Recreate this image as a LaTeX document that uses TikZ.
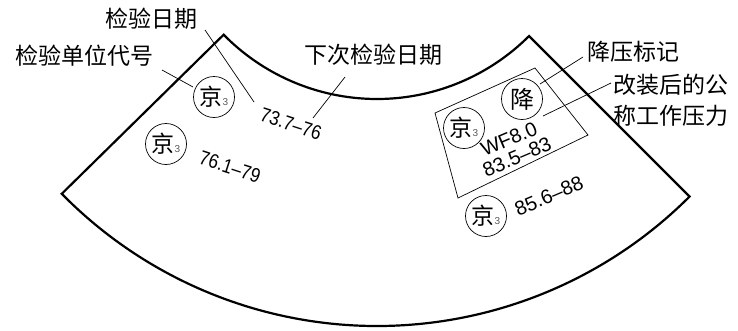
\documentclass[tikz,border=0pt]{standalone}
\usepackage{fontspec}
\setmainfont{Liberation Sans}
\newfontfamily\cjk{Noto Sans CJK SC}
\newfontfamily\numleft[FakeStretch=0.87]{Liberation Sans}
\usetikzlibrary{calc}
\newcommand\jingseal{{\cjk\fontsize{23}{23}\selectfont 京}{\fontsize{10}{10}\selectfont\color{black!65}3}}
\begin{document}
\begin{tikzpicture}[x=1pt,y=-1pt,
  heavy/.style={line width=2.2pt, line join=miter},
  thin/.style={line width=0.7pt},
  seal/.style={circle, draw, line width=0.7pt, minimum size=41pt, inner sep=0pt},
  lbl/.style={font=\cjk\fontsize{23}{31}\selectfont, inner sep=0pt},
  numl/.style={font=\numleft\fontsize{20}{20}\selectfont, inner sep=0pt, rotate=-18},
  numr/.style={font=\fontsize{20}{20}\selectfont, inner sep=0pt, rotate=23}]
\useasboundingbox (0,0) rectangle (738,330);
\coordinate (c) at (377,-116);
% sector
\draw[heavy] ($(c)+(135.5:215)$) arc[start angle=135.5, end angle=45, radius=215]
  -- ($(c)+(45:442)$) arc[start angle=45, end angle=135.5, radius=442] -- cycle;
% labels
\node[lbl] (l1) at (151,19) {检验日期};
\node[lbl] (l2) at (84,56) {检验单位代号};
\node[lbl] (l3) at (373,55) {下次检验日期};
\node[lbl] (l4) at (633,52) {降压标记};
\node[lbl, anchor=west, align=left] (l5) at (613,100) {改装后的公\\称工作压力};
% seals
\node[seal] (s1) at (214,97) {\jingseal};
\node[seal] (s2) at (166,144) {\jingseal};
\node[seal] (s3) at (464,128) {\jingseal};
\node[seal] (s4) at (522,99) {\cjk\fontsize{24}{24}\selectfont 降};
\node[seal] (s5) at (486,216) {\jingseal};
% numbers (rotated along the band)
\node[numl] (n1) at (291,124) {73.7–76};
\node[numl] (n2) at (230,167) {76.1–79};
\node[numr] (n3) at (509,139) {WF8.0};
\node[numr] (n4) at (517,157) {83.5–83};
\node[numr] (n5) at (549,196) {85.6–88};
% box
\coordinate (b1) at (435,113);
\coordinate (b2) at (535,68);
\coordinate (b3) at (588,135);
\coordinate (b4) at (458,198);
\draw[thin] (b1) -- (b2) -- (b3) -- (b4) -- cycle;
% leaders
\coordinate (a1) at (205,30); \coordinate (e1) at (254,102);
\coordinate (a2) at (162,70); \coordinate (e2) at (193,87);
\coordinate (a3) at (345,77); \coordinate (e3) at (313,118);
\coordinate (a4) at (583,57); \coordinate (e4) at (540,84);
\coordinate (a5) at (611,83); \coordinate (e5) at (543,116);
\draw[thin] (a1) -- (e1);
\draw[thin] (a2) -- (e2);
\draw[thin] (a3) -- (e3);
\draw[thin] (a4) -- (e4);
\draw[thin] (a5) -- (e5);
\end{tikzpicture}
\end{document}
